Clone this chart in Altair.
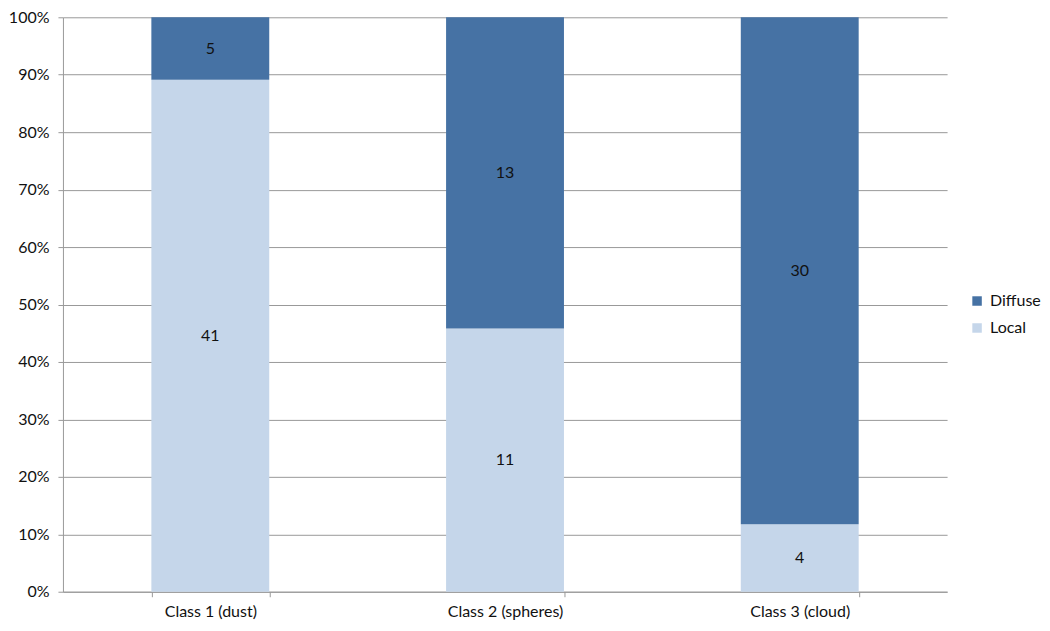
import altair as alt
import pandas as pd

categories = ["Class 1 (dust)", "Class 2 (spheres)", "Class 3 (cloud)"]
local_counts = [41, 11, 4]
diffuse_counts = [5, 13, 30]
series = ["Diffuse", "Local"]
colors = ["#4672A4", "#C5D6EA"]

rows = []
for c, l, d in zip(categories, local_counts, diffuse_counts):
    rows.append({"category": c, "type": "Local", "value": l, "ord": 0})
    rows.append({"category": c, "type": "Diffuse", "value": d, "ord": 1})
df = pd.DataFrame(rows)

FONT = "Lato"
FS = 16

base = alt.Chart(df).transform_stack(
    stack="value", groupby=["category"], as_=["v0", "v1"],
    offset="normalize", sort=[alt.SortField("ord", order="ascending")]
).transform_calculate(mid="(datum.v0 + datum.v1) / 2")

x = alt.X("category:N", sort=categories, title=None,
          scale=alt.Scale(paddingInner=0.6, paddingOuter=0.3),
          axis=alt.Axis(labelAngle=0, tickBand="extent", tickSize=5,
                        labelPadding=7, labelFontSize=FS, labelFont=FONT,
                        labelColor="#111", domainColor="#999", tickColor="#999"))

bars = base.mark_bar().encode(
    x=x,
    y=alt.Y("v0:Q", title=None, scale=alt.Scale(domain=[0, 1], nice=False),
            axis=alt.Axis(format="%", values=[i / 10 for i in range(11)],
                          tickSize=5, labelPadding=9, labelFontSize=FS,
                          labelFont=FONT, labelColor="#111", grid=True,
                          gridColor="#999", domainColor="#999", tickColor="#999")),
    y2="v1:Q",
    color=alt.Color("type:N", scale=alt.Scale(domain=series, range=colors),
                    legend=alt.Legend(title=None, orient="none", legendX=907,
                                      legendY=276, symbolType="square",
                                      symbolSize=90, symbolStrokeWidth=0,
                                      labelFontSize=FS, labelFont=FONT,
                                      labelColor="#111", rowPadding=11,
                                      labelOffset=5)),
)

labels = base.mark_text(fontSize=FS, font=FONT, color="#111").encode(
    x=alt.X("category:N", sort=categories),
    y=alt.Y("mid:Q"),
    text="value:Q",
)

chart = (bars + labels).properties(
    width=885, height=575,
    padding={"left": 55, "top": 9, "right": 95, "bottom": 30},
    autosize="none",
).configure_view(stroke=None).configure_axisX(grid=False)

chart.save("out.html", embed_options={"renderer": "svg", "actions": False})
